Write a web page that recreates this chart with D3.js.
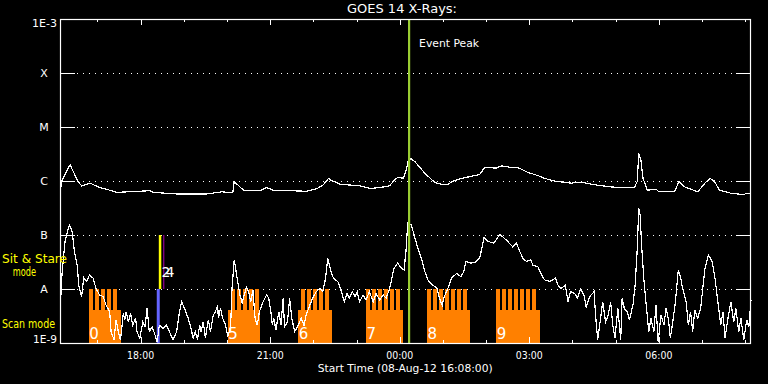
<!DOCTYPE html>
<html>
<head>
<meta charset="utf-8">
<script src="https://cdn.jsdelivr.net/npm/d3@7"></script>
<style>
  html, body { margin: 0; background: #000; }
  svg { display: block; }
</style>
</head>
<body>
<svg id="chart" width="768" height="384"></svg>
<script>
// GOES 14 X-ray light curves, start 08-Aug-12 16:08:00, 16 hours shown
// times are minutes after the start, flux is log10(W/m^2)
const startTime = new Date(2012, 7, 8, 16, 8);
const spanMinutes = 960;

// long channel (1-8 A)
const longChannel = [[1,-6.14],[2,-6.01],[14,-5.70],[25,-6.01],[30,-6.09],[42,-6.04],[53,-6.11],[69,-6.17],[79,-6.21],[125,-6.18],[129,-6.21],[162,-6.24],[204,-6.24],[225,-6.20],[240,-6.22],[242,-6.01],[250,-6.11],[255,-6.17],[278,-6.18],[287,-6.12],[296,-6.17],[343,-6.19],[357,-6.14],[366,-6.07],[373,-5.95],[377,-5.99],[389,-6.06],[417,-6.09],[431,-6.14],[445,-6.12],[458,-6.09],[465,-5.97],[470,-5.93],[477,-5.95],[481,-5.80],[484,-5.61],[488,-5.59],[493,-5.64],[507,-5.86],[521,-6.03],[530,-6.06],[539,-6.06],[548,-5.99],[562,-5.94],[583,-5.88],[590,-5.75],[606,-5.76],[613,-5.72],[627,-5.75],[636,-5.75],[650,-5.84],[664,-5.90],[673,-5.95],[687,-6.00],[710,-6.04],[724,-6.02],[743,-6.07],[766,-6.11],[778,-6.12],[798,-6.12],[802,-6.01],[804,-5.49],[807,-5.61],[810,-5.95],[816,-6.17],[828,-6.15],[831,-6.19],[854,-6.19],[860,-6.01],[868,-6.11],[886,-6.20],[896,-6.04],[903,-5.95],[909,-6.00],[916,-6.17],[933,-6.23],[949,-6.25],[958,-6.22]];

// short channel (0.5-4 A)
const shortChannel = [[1,-8.17],[3,-7.68],[7,-7.12],[13,-6.81],[17,-6.94],[20,-7.31],[24,-7.56],[26,-7.93],[30,-8.14],[33,-7.79],[37,-7.86],[41,-7.74],[46,-7.80],[50,-7.99],[55,-8.11],[60,-8.14],[64,-8.30],[69,-8.42],[71,-8.79],[75,-8.94],[78,-8.57],[81,-8.79],[84,-8.94],[88,-8.45],[90,-8.57],[92,-8.42],[95,-8.61],[98,-8.45],[101,-8.67],[105,-8.54],[107,-8.79],[111,-8.91],[115,-8.61],[118,-8.70],[121,-8.36],[124,-8.79],[128,-8.70],[132,-8.85],[135,-8.98],[138,-8.67],[143,-8.73],[148,-8.67],[152,-8.79],[157,-8.94],[162,-8.79],[166,-8.42],[169,-8.24],[173,-8.36],[178,-8.54],[182,-8.73],[185,-8.91],[188,-8.79],[191,-8.94],[194,-8.67],[196,-8.79],[199,-8.61],[202,-8.91],[206,-8.57],[209,-8.79],[213,-8.48],[216,-8.42],[219,-8.30],[220,-8.54],[223,-8.36],[226,-8.54],[230,-8.67],[233,-8.88],[237,-8.70],[239,-7.99],[242,-7.46],[244,-7.62],[246,-7.80],[250,-8.11],[253,-8.26],[256,-8.11],[259,-7.96],[262,-8.05],[265,-8.24],[268,-8.02],[271,-8.54],[274,-8.67],[277,-8.42],[282,-8.24],[287,-8.11],[290,-8.17],[293,-8.42],[295,-8.67],[297,-8.54],[300,-8.76],[304,-8.42],[307,-8.67],[310,-8.17],[312,-8.70],[316,-8.61],[319,-8.17],[322,-8.54],[326,-8.79],[331,-8.67],[335,-8.54],[339,-8.67],[342,-8.48],[347,-8.30],[351,-8.17],[356,-8.05],[361,-7.99],[365,-8.05],[369,-7.80],[372,-7.43],[376,-7.65],[379,-7.77],[382,-7.83],[386,-7.86],[391,-8.05],[395,-8.24],[399,-8.08],[402,-8.17],[406,-8.05],[410,-8.14],[413,-8.05],[416,-8.24],[421,-8.11],[425,-8.20],[430,-8.05],[435,-8.24],[439,-8.08],[444,-8.20],[449,-8.11],[453,-8.17],[458,-7.99],[461,-7.80],[464,-7.62],[469,-7.52],[473,-7.59],[478,-7.65],[481,-7.25],[483,-6.78],[488,-6.81],[492,-7.00],[496,-7.19],[502,-7.43],[507,-7.68],[512,-7.86],[518,-7.93],[524,-7.99],[527,-8.17],[531,-8.30],[533,-8.17],[538,-8.02],[544,-7.80],[551,-7.71],[557,-7.77],[561,-7.68],[564,-7.49],[571,-7.52],[577,-7.51],[583,-7.43],[585,-7.31],[589,-7.05],[595,-7.12],[602,-7.15],[606,-7.09],[611,-6.99],[615,-7.03],[622,-7.12],[629,-7.22],[634,-7.15],[639,-7.31],[643,-7.43],[648,-7.49],[654,-7.46],[657,-7.56],[664,-7.59],[669,-7.74],[673,-7.83],[680,-7.86],[685,-7.83],[688,-7.79],[692,-7.93],[696,-7.99],[702,-7.93],[706,-8.24],[709,-8.05],[715,-8.08],[719,-8.17],[723,-8.00],[728,-8.11],[731,-8.33],[736,-8.14],[742,-8.05],[744,-8.48],[747,-8.94],[751,-8.54],[754,-8.24],[758,-8.61],[761,-8.51],[765,-8.24],[768,-8.67],[771,-8.91],[775,-8.36],[779,-8.94],[781,-8.17],[784,-8.36],[788,-8.42],[791,-8.57],[796,-8.30],[799,-7.93],[802,-7.25],[804,-6.51],[806,-6.63],[808,-7.19],[811,-7.80],[814,-8.24],[818,-8.79],[821,-8.54],[825,-8.79],[828,-8.30],[831,-8.98],[835,-8.48],[839,-8.67],[842,-8.36],[845,-8.54],[848,-8.91],[852,-8.54],[855,-8.24],[859,-7.65],[862,-7.77],[865,-7.99],[870,-8.24],[873,-8.67],[876,-8.42],[879,-8.79],[882,-8.39],[886,-8.54],[890,-8.36],[893,-7.99],[896,-7.62],[901,-7.37],[906,-7.49],[910,-7.80],[914,-8.24],[918,-8.67],[921,-8.42],[924,-8.91],[928,-8.54],[932,-8.24],[936,-8.61],[939,-8.36],[943,-8.79],[946,-8.54],[950,-8.94],[954,-8.57],[957,-8.70],[960,-8.20]];

// flux classes on the left axis
const fluxLevels = [1e-9, 1e-8, 1e-7, 1e-6, 1e-5, 1e-4, 1e-3];
const levelLabels = ["1E-9", "A", "B", "C", "M", "X", "1E-3"];

// scan-mode rasters (minutes after start)
const scanIds = [0, 5, 6, 7, 8, 9];
const scanStart = [40, 233, 331, 425, 510, 606];
const scanEnd = [85, 278, 378, 477, 570, 667];
const rasterStart = [40, 237, 335, 425, 510, 606];
const rasterCount = [5, 5, 5, 6, 7, 7];
const rasterEvery = 8.33;
const rasterLength = 5.56;
const scanFloor = -8.39;   // log flux top of the scan band

// sit & stare markers
const stareScanTime = 136.5;
const stareTime = 139;
const stareEndTime = 143.5;
const stareLabel = "24";

const eventPeakTime = 485;

// ---- setup
const W = 768, H = 384;
const L = 60, R = 751, T = 19, B = 343;
const font = "DejaVu Sans, sans-serif";

const svg = d3.select("#chart");
svg.append("rect").attr("width", W).attr("height", H).attr("fill", "#000");

const tm = m => new Date(+startTime + m * 60000);
const x = d3.scaleTime().domain([startTime, tm(spanMinutes)]).range([L, R]);
const y = d3.scaleLog().domain([1e-9, 1e-3]).range([B, T]);
const px = m => x(tm(m));
const py = v => y(Math.pow(10, v));

// dotted class lines plus solid end ticks
const inner = fluxLevels.slice(1, -1);
const grid = svg.append("g").attr("shape-rendering", "crispEdges");
grid.selectAll("line.dot").data(inner).join("line")
  .attr("x1", 77).attr("x2", 734)
  .attr("y1", d => Math.round(y(d)) + 0.5).attr("y2", d => Math.round(y(d)) + 0.5)
  .attr("stroke", "#fff").attr("stroke-width", 1).attr("stroke-dasharray", "1,5");
grid.selectAll("line.tl").data(inner).join("line")
  .attr("x1", L).attr("x2", L + 15)
  .attr("y1", d => Math.round(y(d)) + 0.5).attr("y2", d => Math.round(y(d)) + 0.5)
  .attr("stroke", "#fff");
grid.selectAll("line.tr").data(inner).join("line")
  .attr("x1", R - 15).attr("x2", R)
  .attr("y1", d => Math.round(y(d)) + 0.5).attr("y2", d => Math.round(y(d)) + 0.5)
  .attr("stroke", "#fff");

// scan-mode bands
const orange = "#ff8000";
const scans = svg.append("g").attr("shape-rendering", "crispEdges");
scanIds.forEach((id, i) => {
  scans.append("rect")
    .attr("x", px(scanStart[i])).attr("width", px(scanEnd[i]) - px(scanStart[i]))
    .attr("y", py(scanFloor)).attr("height", y(1e-9) - py(scanFloor))
    .attr("fill", orange);
  const teeth = d3.range(rasterCount[i]).map(k => rasterStart[i] + k * rasterEvery);
  scans.selectAll(null).data(teeth).join("rect")
    .attr("x", d => px(d)).attr("width", d => px(d + rasterLength) - px(d))
    .attr("y", y(1e-8)).attr("height", py(scanFloor) - y(1e-8) + 1)
    .attr("fill", orange);
});

// sit & stare markers
svg.append("line").attr("x1", px(stareScanTime)).attr("x2", px(stareScanTime))
  .attr("y1", y(1e-9)).attr("y2", y(1e-8))
  .attr("stroke", "#6464ff").attr("stroke-width", 3);
svg.append("line").attr("x1", px(stareTime)).attr("x2", px(stareTime))
  .attr("y1", y(1e-8)).attr("y2", y(1e-7))
  .attr("stroke", "#ffff00").attr("stroke-width", 2.5);
svg.append("line").attr("x1", px(stareEndTime) + 0.5).attr("x2", px(stareEndTime) + 0.5)
  .attr("y1", y(1e-8)).attr("y2", y(1e-7))
  .attr("stroke", "#b000b0").attr("stroke-width", 1);

// light curves
const line = d3.line().x(d => px(d[0])).y(d => py(d[1]));
[longChannel, shortChannel].forEach(s => {
  svg.append("path").datum(s).attr("d", line)
    .attr("fill", "none").attr("stroke", "#fff").attr("stroke-width", 1.2)
    .attr("shape-rendering", "crispEdges");
});

// scan ids
scanIds.forEach((id, i) => {
  svg.append("text").attr("x", px(scanStart[i]) + 0.5).attr("y", B - 4.5)
    .attr("fill", "#fff").style("font-family", font).style("font-size", "15px")
    .text(id);
});
svg.append("text").attr("x", px(stareTime) + 1.5).attr("y", py(-7.62) + 9)
  .attr("fill", "#fff").style("font-family", font).style("font-size", "14px")
  .style("letter-spacing", "-5px")
  .text(stareLabel);

// event peak
svg.append("line").attr("x1", px(eventPeakTime)).attr("x2", px(eventPeakTime))
  .attr("y1", T).attr("y2", B).attr("stroke", "#9acd32").attr("stroke-width", 2.2);
svg.append("text").attr("x", px(eventPeakTime) + 10).attr("y", 46.7)
  .attr("fill", "#fff").style("font-family", font).style("font-size", "11px")
  .attr("textLength", 60).attr("lengthAdjust", "spacingAndGlyphs")
  .text("Event Peak");

// frame
svg.append("rect").attr("x", L + 0.5).attr("y", T + 0.5)
  .attr("width", R - L - 1).attr("height", B - T)
  .attr("fill", "none").attr("stroke", "#fff").attr("stroke-width", 1.2);

// time ticks (hourly, 3-hourly longer)
const hours = x.ticks(d3.timeHour.every(1));
const axisG = svg.append("g").attr("stroke", "#fff").attr("shape-rendering", "crispEdges");
hours.forEach(h => {
  const major = h.getHours() % 3 === 0;
  const len = major ? 6 : 3;
  const xx = Math.round(x(h)) + 0.5;
  axisG.append("line").attr("x1", xx).attr("x2", xx).attr("y1", T).attr("y2", T + len);
  axisG.append("line").attr("x1", xx).attr("x2", xx).attr("y1", B).attr("y2", B - len);
});
const fmt = d3.timeFormat("%H:%M");
hours.filter(h => h.getHours() % 3 === 0).forEach(h => {
  svg.append("text").attr("x", x(h)).attr("y", 358.5)
    .attr("text-anchor", "middle").attr("fill", "#fff")
    .style("font-family", font).style("font-size", "10px")
    .attr("textLength", 27).attr("lengthAdjust", "spacingAndGlyphs")
    .text(fmt(h));
});

// flux class labels
levelLabels.forEach((lab, i) => {
  const yy = y(fluxLevels[i]);
  const t = svg.append("text").attr("fill", "#fff")
    .style("font-family", font).style("font-size", "11px");
  if (i === 0) t.attr("x", 57).attr("y", yy).attr("text-anchor", "end")
    .attr("textLength", 24).attr("lengthAdjust", "spacingAndGlyphs");
  else if (i === levelLabels.length - 1) t.attr("x", 57).attr("y", yy + 8).attr("text-anchor", "end")
    .attr("textLength", 25).attr("lengthAdjust", "spacingAndGlyphs");
  else t.attr("x", 44).attr("y", yy + 4.3).attr("text-anchor", "middle");
  t.text(lab);
});

// mode labels
const yellowText = (s, xx, yy, len) => svg.append("text").attr("x", xx).attr("y", yy)
  .attr("fill", "#ffff00").style("font-family", font).style("font-size", "12px")
  .attr("textLength", len).attr("lengthAdjust", "spacingAndGlyphs").text(s);
yellowText("Sit & Stare", 2, 263, 65);
yellowText("mode", 12.7, 275.5, 23.3);
yellowText("Scan mode", 2, 328, 53);

// titles
svg.append("text").attr("x", 347).attr("y", 13.3).attr("fill", "#fff")
  .style("font-family", font).style("font-size", "12px")
  .attr("textLength", 110).attr("lengthAdjust", "spacingAndGlyphs")
  .text("GOES 14 X-Rays:");
svg.append("text").attr("x", 317.7).attr("y", 372).attr("fill", "#fff")
  .style("font-family", font).style("font-size", "11px")
  .attr("textLength", 175).attr("lengthAdjust", "spacingAndGlyphs")
  .text("Start Time (" + d3.timeFormat("%d-%b-%y %H:%M:%S")(startTime) + ")");
</script>
</body>
</html>
